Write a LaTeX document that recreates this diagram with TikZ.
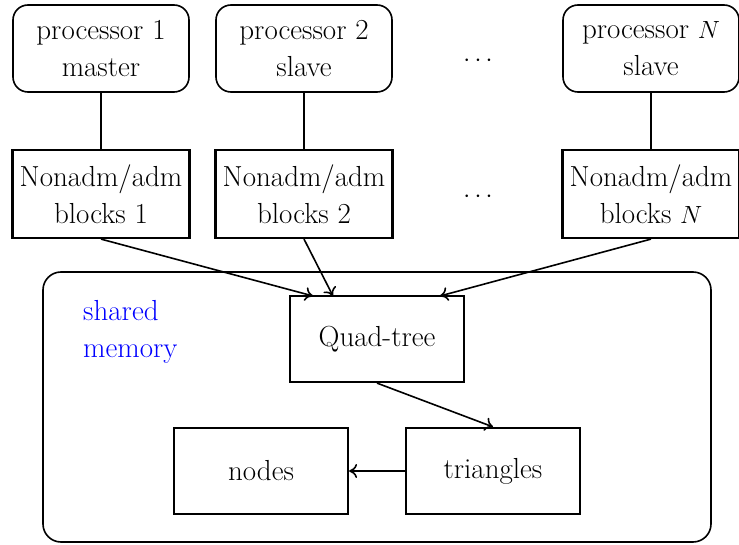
\documentclass[tikz,border=0pt]{standalone}
\usetikzlibrary{arrows.meta}
\begin{document}
\begin{tikzpicture}[x=1pt,y=-1pt,
  every node/.style={font=\fontsize{29}{37}\selectfont, align=center, inner sep=0pt},
  procbox/.style={draw, line width=1.6pt, rounded corners=15pt, minimum width=176pt, minimum height=87pt},
  blockbox/.style={draw, line width=2.2pt, minimum width=177pt, minimum height=88pt},
  membox/.style={draw, line width=2.2pt, minimum width=174pt, minimum height=86pt},
  link/.style={line width=1.8pt},
  arr/.style={line width=1.6pt, -{To[length=8pt,width=14pt]}}]
\useasboundingbox (0,0) rectangle (739,545);
\draw[line width=1.6pt, rounded corners=18pt] (43,272) rectangle (711,542);
\node (p1) [procbox] at (101,48.5) {processor 1\\master};
\node (p2) [procbox] at (304,48.5) {processor 2\\slave};
\node (pN) [procbox] at (651,48.5) {processor $N$\\slave};
\node (d1) at (478,61) {$\cdots$};
\node (b1) [blockbox] at (101,194) {Nonadm/adm\\blocks 1};
\node (b2) [blockbox] at (304,194) {Nonadm/adm\\blocks 2};
\node (bN) [blockbox] at (651,194) {Nonadm/adm\\blocks $N$};
\node (d2) at (478,197) {$\cdots$};
\node (sm) [anchor=north west, align=left, text=blue] at (83,300) {shared\\memory};
\node (qt) [membox] at (377,339) {Quad-tree};
\node (nd) [membox] at (261,471) {nodes};
\node (tr) [membox] at (493,471) {triangles};
\coordinate (q1) at (313,296);
\coordinate (q2) at (333,296);
\coordinate (qN) at (440,296);
\draw[link] (p1) -- (b1);
\draw[link] (p2) -- (b2);
\draw[link] (pN) -- (bN);
\draw[arr] (b1.south) -- (q1);
\draw[arr] (b2.south) -- (q2);
\draw[arr] (bN.south) -- (qN);
\draw[arr] (qt.south) -- (tr.north);
\draw[arr] (tr.west) -- (nd.east);
\end{tikzpicture}
\end{document}
